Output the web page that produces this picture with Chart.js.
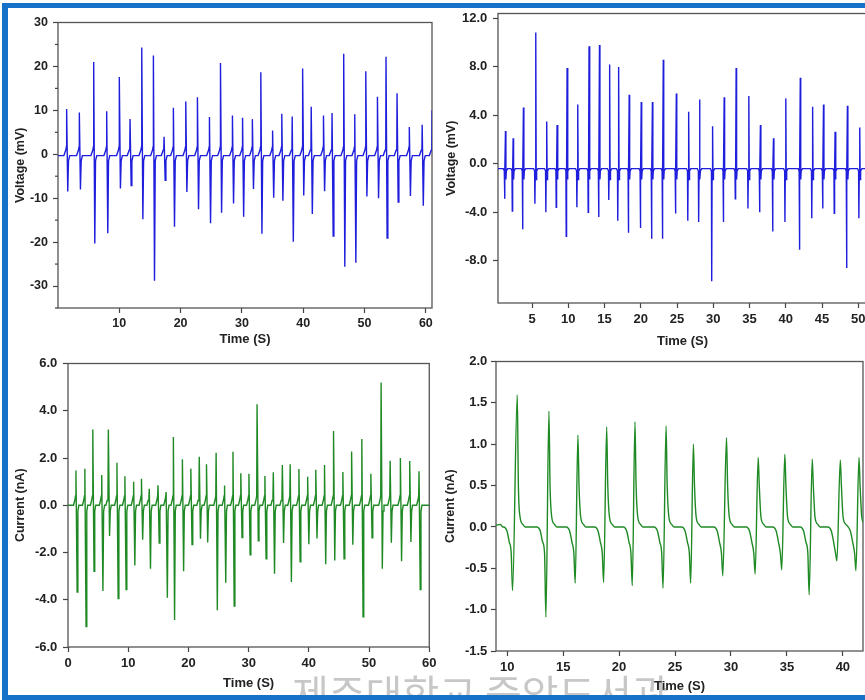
<!DOCTYPE html>
<html>
<head>
<meta charset="utf-8">
<script src="https://cdn.jsdelivr.net/npm/chart.js@4.4.0/dist/chart.umd.min.js"></script>
<style>
  html, body { margin: 0; padding: 0; background: #fff; }
  body { position: relative; width: 865px; height: 700px; overflow: hidden; }
  canvas { position: absolute; }
  .bar { position: absolute; background: #1672c9; z-index: 5; }
  #wm { position: absolute; left: 292px; top: 672px; font-family: "Noto Sans CJK KR", sans-serif;
        font-size: 40px; line-height: 40px; color: rgba(100,100,100,0.36); white-space: nowrap; z-index: 4; }
</style>
</head>
<body>
<canvas id="cA" width="440" height="340" style="left:0;top:10px"></canvas>
<canvas id="cB" width="450" height="350" style="left:430px;top:0"></canvas>
<canvas id="cC" width="440" height="345" style="left:0;top:350px"></canvas>
<canvas id="cD" width="440" height="350" style="left:430px;top:350px"></canvas>
<div id="wm">제주대학교 중앙도서관</div>
<div class="bar" style="left:2px;top:3px;width:863px;height:5px"></div>
<div class="bar" style="left:2px;top:3px;width:6px;height:697px"></div>
<div class="bar" style="left:2px;top:695px;width:863px;height:5px"></div>
<script>
// panel A - voltage, spike times (s), positive peaks and negative troughs (mV)
const timesA = [1.41, 3.48, 5.82, 7.94, 10.0, 11.75, 13.66, 15.56, 17.3, 18.82, 20.84, 22.74, 24.7, 26.5, 28.45, 30.1, 31.7, 33.08, 35.0, 36.5, 38.2, 39.9, 41.3, 43.3, 44.7, 46.6, 48.4, 50.2, 52.1, 53.5, 55.3, 57.3, 59.4, 61.02];
const peaksA = [10.3, 9.5, 21, 9.8, 17.6, 8, 24.3, 22.5, 4, 10.6, 12, 13, 8.5, 20.8, 8.8, 8.3, 8, 18.7, 5.4, 9.2, 8.6, 19.5, 10.8, 8.8, 9.4, 22.9, 9.1, 18.9, 13.1, 22.2, 13.9, 6.2, 6.7, 10];
const troughsA = [-8.5, -8, -20.3, -18, -7.8, -7.1, -14.8, -28.8, -5.9, -16.5, -8.6, -12.5, -15.7, -13.3, -11.2, -14.2, -7.9, -18.1, -9.9, -10.6, -19.9, -9.4, -13.6, -8.4, -18.6, -25.6, -24.7, -9.6, -10, -19.1, -10.9, -9.5, -11.7, -9];
const baseA = -0.3;

// panel B - voltage
const timesB = [1.33, 2.39, 3.81, 5.51, 7.02, 8.45, 9.83, 11.3, 12.86, 14.3, 15.7, 16.94, 18.4, 20.06, 21.6, 23.1, 24.9, 26.6, 28.1, 29.9, 31.5, 33.15, 34.9, 36.5, 38.3, 40.0, 42.0, 43.7, 45.2, 46.8, 48.5, 50.2];
const peaksB = [2.7, 2.1, 4.65, 10.85, 3.5, 3.2, 7.9, 4.9, 9.7, 9.8, 8.2, 8.0, 5.7, 5.1, 5.1, 8.6, 5.8, 4.3, 5.3, 3.1, 5.5, 7.9, 5.6, 3.2, 2.1, 5.4, 7.1, 4.7, 4.9, 2.65, 4.8, 3.0];
const troughsB = [-2.9, -3.9, -5.4, -3.3, -4.0, -3.6, -6.0, -3.6, -4.0, -4.4, -3.0, -4.7, -5.7, -5.3, -6.2, -6.2, -4.1, -4.7, -4.8, -9.7, -4.8, -2.9, -3.7, -4.0, -5.6, -4.8, -7.1, -4.5, -3.7, -4.1, -8.6, -4.5];
const baseB = -0.4;

// panel C - current (nA)
const timesC = [1.32, 2.8, 4.12, 5.6, 6.7, 8.13, 9.45, 10.9, 12.2, 13.5, 14.95, 16.3, 17.5, 19.0, 20.4, 21.8, 23.0, 24.6, 26.0, 27.4, 28.7, 30.05, 31.4, 32.7, 34.1, 35.6, 36.9, 38.35, 39.8, 41.15, 42.6, 44.1, 45.65, 47.1, 48.8, 50.3, 52.0, 53.5, 55.2, 56.75, 58.3];
const peaksC = [1.47, 1.55, 3.21, 1.28, 3.21, 1.8, 1.23, 0.99, 1.12, 0.7, 0.85, 0.56, 2.89, 1.95, 1.55, 2.05, 1.74, 2.22, 0.84, 2.26, 1.35, 1.33, 4.28, 1.24, 1.4, 1.7, 1.73, 1.53, 1.21, 1.5, 1.7, 3.14, 1.41, 2.27, 2.8, 1.33, 5.2, 1.88, 2.0, 1.87, 1.44];
const troughsC = [-3.67, -5.13, -2.8, -3.63, -1.3, -3.95, -3.57, -2.55, -1.46, -2.69, -1.6, -3.92, -4.86, -2.79, -1.66, -1.42, -1.58, -4.44, -3.28, -4.27, -1.37, -2.1, -1.5, -2.27, -2.9, -1.6, -3.25, -2.39, -1.65, -1.41, -2.5, -2.34, -2.27, -1.67, -4.72, -1.38, -2.69, -1.59, -2.37, -1.56, -3.57];
const baseC = 0;

// panel D - current (nA), trough comes first then the peak
const troughTimesD = [10.48, 13.46, 16.08, 18.62, 21.18, 23.93, 26.4, 29.27, 32.16, 34.54, 36.99, 39.47, 41.17];
const troughsD = [-0.77, -1.09, -0.68, -0.67, -0.71, -0.74, -0.68, -0.59, -0.57, -0.52, -0.82, -0.41, -0.53];
const peakTimesD = [10.9, 13.73, 16.32, 18.89, 21.42, 24.2, 26.64, 29.6, 32.43, 34.81, 37.26, 39.77, 41.44];
const peaksD = [1.6, 1.40, 1.11, 1.21, 1.27, 1.22, 1.0, 1.08, 0.84, 0.88, 0.82, 0.81, 0.84];

// tick labels
const xTicksA = [10, 20, 30, 40, 50, 60];
const yTicksA = [-30, -20, -10, 0, 10, 20, 30];
const yMinorA = [-35, -25, -15, -5, 5, 15, 25];
const xTicksB = [5, 10, 15, 20, 25, 30, 35, 40, 45, 50];
const yTicksB = [-8, -4, 0, 4, 8, 12];
const xTicksC = [0, 10, 20, 30, 40, 50, 60];
const yTicksC = [-6, -4, -2, 0, 2, 4, 6];
const xTicksD = [10, 15, 20, 25, 30, 35, 40];
const yTicksD = [-1.5, -1.0, -0.5, 0, 0.5, 1.0, 1.5, 2.0];

// spike shapes: [time offset, 'b' base+v | 'p' peak | 't' trough, v]
const shapeA = [[-0.45, 'b', 0], [-0.15, 'b', 1.2], [-0.04, 'b', 2], [0, 'p'], [0.18, 't'], [0.3, 'b', -1.2], [0.5, 'b', 0]];
const shapeB = [[-0.3, 'b', 0], [-0.16, 'b', -0.2], [-0.12, 't'], [-0.07, 'b', -0.3], [0, 'p'], [0.06, 'b', -0.9], [0.12, 'b', -0.2], [0.3, 'b', 0]];
const shapeC = [[-0.4, 'b', 0], [-0.2, 'b', 0.2], [-0.06, 'b', 0.4], [0, 'p'], [0.2, 't'], [0.32, 'b', -0.25], [0.48, 'b', 0]];
const preTroughD = [[-0.8, 0], [-0.5, -0.05], [-0.3, -0.18], [-0.12, -0.32]];
const postPeakD = [[0.1, 0.5], [0.25, 0.12], [0.5, 0.03], [0.7, 0]];

function buildTrace(times, peaks, troughs, shape, base, start, end) {
    const pts = [{x: start, y: base}];
    times.forEach((t, i) => {
        shape.forEach(([dt, k, v]) => {
            let y = base + v;
            if (k === 'p') y = peaks[i];
            if (k === 't') y = troughs[i];
            pts.push({x: t + dt, y: y});
        });
    });
    pts.push({x: end, y: base});
    return pts;
}

function buildTraceD() {
    const pts = [{x: 9, y: 0.02}, {x: 9.4, y: 0.03}, {x: 9.6, y: 0.0}];
    troughTimesD.forEach((tt, i) => {
        preTroughD.forEach(([dt, v]) => {
            // keep the trace in time order when two spikes sit close together
            if (i === 0 || tt + dt > peakTimesD[i - 1] + 0.7) pts.push({x: tt + dt, y: v});
        });
        pts.push({x: tt, y: troughsD[i]});
        pts.push({x: peakTimesD[i], y: peaksD[i]});
        postPeakD.forEach(([dt, v]) => pts.push({x: peakTimesD[i] + dt, y: v}));
    });
    return pts;
}

const FONT = '"Liberation Sans", Arial, sans-serif';
const TXT = '#222';

// frame around the plot area + optional minor ticks
const boxPlugin = {
    id: 'box',
    beforeDatasetsDraw(chart) {
        const a = chart.chartArea, ctx = chart.ctx;
        ctx.save();
        ctx.strokeStyle = '#555';
        ctx.lineWidth = 1.3;
        ctx.strokeRect(a.left, a.top, a.right - a.left, a.bottom - a.top);
        const minor = chart.options.plugins.box.minorY;
        if (minor) {
            ctx.strokeStyle = '#444';
            ctx.lineWidth = 1.2;
            minor.forEach(v => {
                const y = chart.scales.y.getPixelForValue(v);
                ctx.beginPath();
                ctx.moveTo(a.left - 3, y);
                ctx.lineTo(a.left, y);
                ctx.stroke();
            });
        }
        ctx.restore();
    }
};

function makeChart(id, o) {
    const axisCommon = (ticks, fit, dec, pad, fsize) => ({
        type: 'linear',
        afterBuildTicks: s => { s.ticks = ticks.map(v => ({value: v})); },
        afterFit: fit,
        border: {display: false},
        grid: {drawOnChartArea: false, drawTicks: true, tickLength: 5, tickColor: '#444', tickWidth: 1.2},
        ticks: {
            color: TXT, padding: pad, autoSkip: false, maxRotation: 0,
            font: {family: FONT, weight: 'bold', size: fsize},
            callback: v => v.toFixed(dec)
        }
    });
    const x = axisCommon(o.xTicks, s => { s.height = o.xh; }, 0, 3.5, o.tickSize);
    x.min = o.xMin; x.max = o.xMax;
    x.title = {display: true, text: 'Time (S)', color: TXT, font: {family: FONT, weight: 'bold', size: 13},
               padding: {top: 0, bottom: o.xTitlePad}};
    const y = axisCommon(o.yTicks, s => { s.width = o.yw; }, o.yDec, o.yPad, o.tickSize);
    y.min = o.yMin; y.max = o.yMax;
    y.title = {display: true, text: o.yTitle, color: TXT, font: {family: FONT, weight: 'bold', size: 12.5},
               padding: {top: o.yTitlePad, bottom: 0}};

    return new Chart(document.getElementById(id), {
        type: 'line',
        data: {
            datasets: [{
                data: o.data,
                borderColor: o.color,
                borderWidth: 1.4,
                pointRadius: 0,
                tension: 0,
                cubicInterpolationMode: o.smooth ? 'monotone' : 'default'
            }]
        },
        options: {
            responsive: false,
            animation: false,
            layout: {padding: o.pad},
            plugins: {legend: {display: false}, tooltip: {enabled: false}, box: {minorY: o.minorY}},
            scales: {x: x, y: y}
        },
        plugins: [boxPlugin]
    });
}

makeChart('cA', {
    data: buildTrace(timesA, peaksA, troughsA, shapeA, baseA, 0, 61.6),
    color: '#1e1edc', xMin: 0, xMax: 61, yMin: -35, yMax: 30,
    xTicks: xTicksA, yTicks: yTicksA, yDec: 0, minorY: yMinorA,
    yTitle: 'Voltage (mV)', pad: {left: 0, top: 9, right: 8, bottom: 0},
    yw: 58, xh: 42, yPad: 5, tickSize: 12.5, xTitlePad: 3.2, yTitlePad: 13.5
});

makeChart('cB', {
    data: buildTrace(timesB, peaksB, troughsB, shapeB, baseB, 0.3, 51.2),
    color: '#1e1edc', xMin: 0.3, xMax: 51.2, yMin: -11.5, yMax: 12.41,
    xTicks: xTicksB, yTicks: yTicksB, yDec: 1,
    yTitle: 'Voltage (mV)', pad: {left: 0, top: 13, right: 13, bottom: 0},
    yw: 68, xh: 47, yPad: 5.7, tickSize: 13, xTitlePad: 1.2, yTitlePad: 14.5
});

makeChart('cC', {
    data: buildTrace(timesC, peaksC, troughsC, shapeC, baseC, 0, 60),
    color: '#1f8a24', xMin: 0, xMax: 60, yMin: -6, yMax: 6,
    xTicks: xTicksC, yTicks: yTicksC, yDec: 1,
    yTitle: 'Current (nA)', pad: {left: 0, top: 11, right: 8, bottom: 0},
    yw: 68, xh: 48, yPad: 5.7, tickSize: 13, xTitlePad: 3.9, yTitlePad: 13.5
});

makeChart('cD', {
    data: buildTraceD(),
    color: '#1f8a24', xMin: 9, xMax: 41.8, yMin: -1.5, yMax: 2.0,
    xTicks: xTicksD, yTicks: yTicksD, yDec: 1, smooth: true,
    yTitle: 'Current (nA)', pad: {left: 0, top: 11, right: 7, bottom: 0},
    yw: 66, xh: 49, yPad: 3.7, tickSize: 13, xTitlePad: 5.5, yTitlePad: 12.8
});
</script>
</body>
</html>
